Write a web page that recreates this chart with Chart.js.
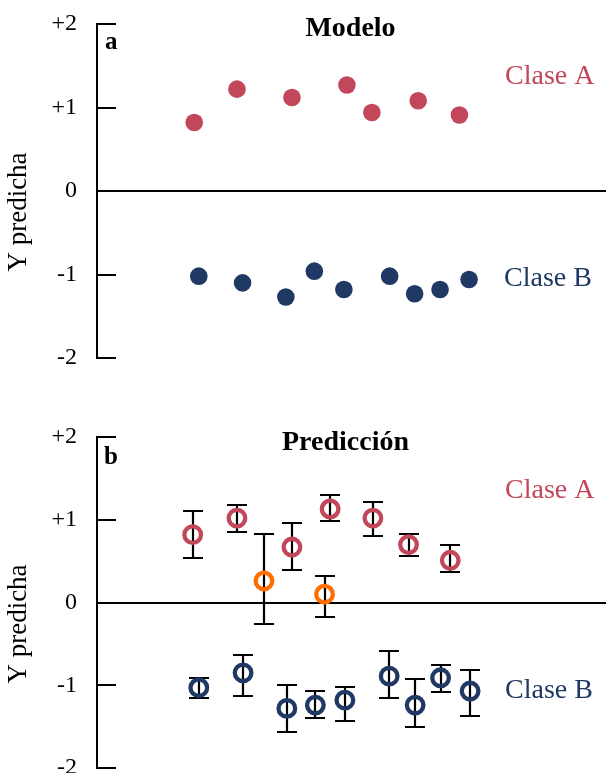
<!DOCTYPE html>
<html><head><meta charset="utf-8">
<script src="https://cdn.jsdelivr.net/npm/chart.js@4/dist/chart.umd.min.js"></script>
<style>
html,body{margin:0;padding:0;background:#fff;width:606px;height:773px;overflow:hidden}
canvas{position:absolute;left:0}
#c1{top:0}
#c2{top:386px}
</style></head><body>
<canvas id="c1" width="606" height="386" style="width:606px;height:386px"></canvas>
<canvas id="c2" width="606" height="387" style="width:606px;height:387px"></canvas>
<script>
// ---- tick labels ----
const yTickValues = [-2, -1, 0, 1, 2];
const yTickLabels = ['-2', '-1', '0', '+1', '+2'];

// ---- panel a: Modelo ----
const xTopA = [1.91, 2.75, 3.83, 4.91, 5.40, 6.31, 7.12];
const yTopA = [0.82, 1.22, 1.12, 1.27, 0.94, 1.08, 0.91];
const xTopB = [2.00, 2.86, 3.71, 4.27, 4.85, 5.75, 6.24, 6.74, 7.31];
const yTopB = [-1.02, -1.10, -1.27, -0.96, -1.18, -1.02, -1.23, -1.18, -1.06];

// ---- panel b: Predicción ----
const xBotA  = [1.88, 2.75, 3.83, 4.58, 5.42, 6.12, 6.94];
const yBotA  = [0.82, 1.02, 0.67, 1.13, 1.02, 0.70, 0.51];
const hiBotA = [1.11, 1.18, 0.96, 1.30, 1.21, 0.83, 0.70];
const loBotA = [0.54, 0.85, 0.39, 0.98, 0.80, 0.56, 0.37];

const xBotO  = [3.28, 4.47];
const yBotO  = [0.26, 0.10];
const hiBotO = [0.83, 0.32];
const loBotO = [-0.26, -0.17];

const xBotB  = [2.00, 2.87, 3.73, 4.29, 4.87, 5.74, 6.25, 6.75, 7.33];
const yBotB  = [-1.03, -0.85, -1.28, -1.24, -1.18, -0.89, -1.24, -0.91, -1.07];
const hiBotB = [-0.91, -0.63, -1.00, -1.07, -1.02, -0.59, -0.93, -0.76, -0.81];
const loBotB = [-1.15, -1.13, -1.57, -1.39, -1.43, -1.15, -1.50, -1.08, -1.37];

const RED = '#C2475A', NAVY = '#203864', ORANGE = '#FF6E00';
const SERIF = '"Liberation Serif", "Times New Roman", serif';

function pts(xs, ys) { return xs.map((x, i) => ({ x: x, y: ys[i] })); }

function makeScales() {
  return {
    x: { type: 'linear', min: 0, max: 10, display: false },
    y: {
      type: 'linear', min: -2, max: 2,
      afterBuildTicks: s => { s.ticks = yTickValues.map(v => ({ value: v })); },
      afterFit: s => { s.width = 97; s.paddingTop = 0; s.paddingBottom = 0; },
      ticks: {
        color: '#000', padding: 20,
        font: { family: SERIF, size: 24 },
        callback: v => { const i = yTickValues.indexOf(v); return i >= 0 ? yTickLabels[i] : ''; }
      },
      grid: {
        drawTicks: false, lineWidth: 2,
        color: c => (c.tick && c.tick.value === 0) ? '#000' : 'rgba(0,0,0,0)'
      },
      border: { display: true, color: '#000', width: 2 }
    }
  };
}

const innerTicks = {
  id: 'innerTicks',
  afterDatasetsDraw(chart) {
    const ctx = chart.ctx, y = chart.scales.y, left = chart.chartArea.left;
    ctx.save(); ctx.strokeStyle = '#000'; ctx.lineWidth = 2;
    yTickValues.forEach(v => {
      if (v === 0) return;
      const py = Math.round(y.getPixelForValue(v));
      ctx.beginPath(); ctx.moveTo(left - 1, py); ctx.lineTo(left + 19, py); ctx.stroke();
    });
    ctx.restore();
  }
};

const errorBars = {
  id: 'errorBars',
  beforeDatasetsDraw(chart) {
    const ctx = chart.ctx, x = chart.scales.x, y = chart.scales.y;
    ctx.save(); ctx.strokeStyle = '#000'; ctx.lineWidth = 2.2;
    chart.data.datasets.forEach(ds => {
      if (!ds.errHi) return;
      ds.data.forEach((p, i) => {
        const px = Math.round(x.getPixelForValue(p.x));
        const yh = Math.round(y.getPixelForValue(ds.errHi[i]));
        const yl = Math.round(y.getPixelForValue(ds.errLo[i]));
        ctx.beginPath();
        ctx.moveTo(px, yh); ctx.lineTo(px, yl);
        ctx.moveTo(px - 10, yh); ctx.lineTo(px + 10, yh);
        ctx.moveTo(px - 10, yl); ctx.lineTo(px + 10, yl);
        ctx.stroke();
      });
    });
    ctx.restore();
  }
};

function textPlugin(items, ylab) {
  return {
    id: 'texts',
    afterDraw(chart) {
      const ctx = chart.ctx;
      ctx.save();
      items.forEach(t => {
        ctx.font = (t.bold ? 'bold ' : '') + t.size + 'px ' + SERIF;
        ctx.fillStyle = t.color || '#000';
        ctx.textAlign = t.align || 'left';
        ctx.textBaseline = 'alphabetic';
        ctx.fillText(t.text, t.x, t.y);
      });
      ctx.translate(ylab.x, ylab.y);
      ctx.rotate(-Math.PI / 2);
      ctx.font = '27px ' + SERIF;
      ctx.fillStyle = '#000';
      ctx.textAlign = 'center';
      ctx.textBaseline = 'alphabetic';
      ctx.fillText('Y predicha', 0, 0);
      ctx.restore();
    }
  };
}

const common = {
  responsive: false, animation: false,
  plugins: { legend: { display: false }, tooltip: { enabled: false }, title: { display: false } }
};

new Chart(document.getElementById('c1'), {
  type: 'scatter',
  data: {
    datasets: [
      { label: 'Clase A', data: pts(xTopA, yTopA), pointRadius: 8.8, pointBackgroundColor: RED, pointBorderWidth: 0, pointBorderColor: RED },
      { label: 'Clase B', data: pts(xTopB, yTopB), pointRadius: 8.8, pointBackgroundColor: NAVY, pointBorderWidth: 0, pointBorderColor: NAVY }
    ]
  },
  options: Object.assign({}, common, {
    layout: { autoPadding: false, padding: { top: 24, bottom: 28, left: 0, right: 0 } },
    scales: makeScales()
  }),
  plugins: [innerTicks, textPlugin([
    { text: 'Modelo', x: 350.5, y: 36, size: 28, bold: true, align: 'center' },
    { text: 'a', x: 105, y: 49, size: 25, bold: true },
    { text: 'Clase A', x: 505, y: 84, size: 28, color: RED },
    { text: 'Clase B', x: 504, y: 286, size: 28, color: NAVY }
  ], { x: 26, y: 212 })]
});

new Chart(document.getElementById('c2'), {
  type: 'scatter',
  data: {
    datasets: [
      { label: 'Clase A', data: pts(xBotA, yBotA), errHi: hiBotA, errLo: loBotA, pointRadius: 8.3, pointBorderWidth: 4.3, pointBorderColor: RED, pointBackgroundColor: 'rgba(0,0,0,0)' },
      { label: 'Mal clasificadas', data: pts(xBotO, yBotO), errHi: hiBotO, errLo: loBotO, pointRadius: 8.3, pointBorderWidth: 4.3, pointBorderColor: ORANGE, pointBackgroundColor: 'rgba(0,0,0,0)' },
      { label: 'Clase B', data: pts(xBotB, yBotB), errHi: hiBotB, errLo: loBotB, pointRadius: 8.3, pointBorderWidth: 4.3, pointBorderColor: NAVY, pointBackgroundColor: 'rgba(0,0,0,0)' }
    ]
  },
  options: Object.assign({}, common, {
    layout: { autoPadding: false, padding: { top: 51, bottom: 5, left: 0, right: 0 } },
    scales: makeScales()
  }),
  plugins: [errorBars, innerTicks, textPlugin([
    { text: 'Predicción', x: 345.5, y: 64, size: 28, bold: true, align: 'center' },
    { text: 'b', x: 104, y: 78, size: 25, bold: true },
    { text: 'Clase A', x: 505, y: 112, size: 28, color: RED },
    { text: 'Clase B', x: 505, y: 312, size: 28, color: NAVY }
  ], { x: 26, y: 238 })]
});
</script>
</body></html>
